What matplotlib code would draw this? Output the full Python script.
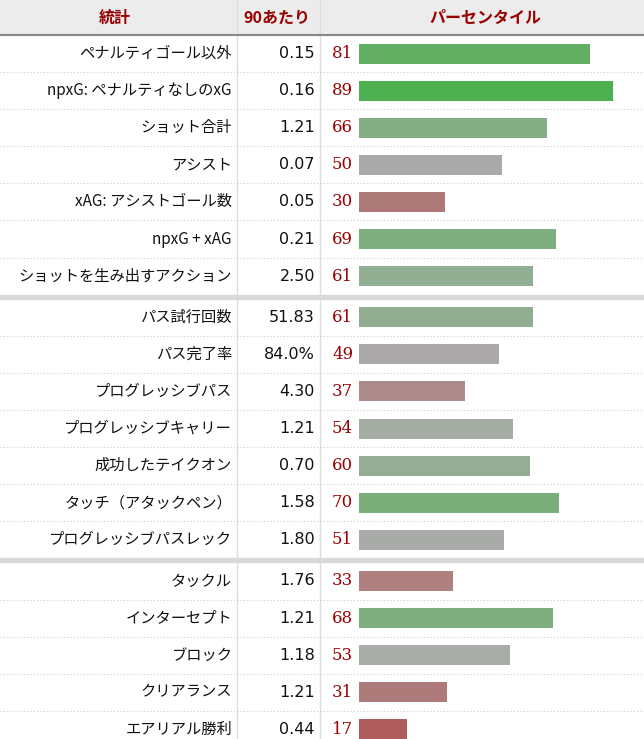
import matplotlib.pyplot as plt
from matplotlib.colors import LinearSegmentedColormap
from matplotlib.patches import Rectangle

plt.rcParams['font.family'] = ['Noto Sans CJK JP', 'DejaVu Sans']

# データ
stats = ['ペナルティゴール以外', 'npxG: ペナルティなしのxG', 'ショット合計', 'アシスト',
         'xAG: アシストゴール数', 'npxG + xAG', 'ショットを生み出すアクション',
         'パス試行回数', 'パス完了率', 'プログレッシブパス', 'プログレッシブキャリー',
         '成功したテイクオン', 'タッチ（アタックペン）', 'プログレッシブパスレック',
         'タックル', 'インターセプト', 'ブロック', 'クリアランス', 'エアリアル勝利']
per90 = ['0.15', '0.16', '1.21', '0.07', '0.05', '0.21', '2.50',
         '51.83', '84.0%', '4.30', '1.21', '0.70', '1.58', '1.80',
         '1.76', '1.21', '1.18', '1.21', '0.44']
pct = [81, 89, 66, 50, 30, 69, 61,
       61, 49, 37, 54, 60, 70, 51,
       33, 68, 53, 31, 17]
group_sizes = [7, 7, 5]
headers = ['統計', '90あたり', 'パーセンタイル']

cmap = LinearSegmentedColormap.from_list('pct', [
    (0.0, '#b03a3a'), (0.17, '#ad5b5b'), (0.33, '#ae8080'), (0.5, '#aaaaaa'),
    (0.53, '#a8ada8'), (0.68, '#80ae80'), (0.81, '#62ae62'), (0.89, '#4caf50'), (1.0, '#3aa83a')])

W, H = 644, 739
fig = plt.figure(figsize=(W / 100, H / 100), dpi=100)
ax = fig.add_axes([0, 0, 1, 1])
ax.set_xlim(0, W)
ax.set_ylim(H, 0)
ax.axis('off')

red = '#990000'
# ヘッダー
ax.add_patch(Rectangle((0, 0), W, 35, color='#ececec', zorder=0))
ax.axhline(35, color='#888888', lw=1.5)
for x, h in zip([115, 277, 485], headers):
    ax.text(x, 18, h, ha='center', va='center', color=red, fontsize=11.5, fontweight='bold')

row_h = 37.1
scale = (590 - 359) / 81
y = 35
i = 0
for g, n in enumerate(group_sizes):
    for k in range(n):
        yc = y + row_h / 2
        ax.text(232, yc, stats[i], ha='right', va='center', fontsize=11, color='#111111')
        ax.text(315, yc, per90[i], ha='right', va='center', fontsize=11.5, color='#111111',
                family='DejaVu Sans')
        ax.text(332, yc, str(pct[i]), ha='left', va='center', fontsize=12, color=red,
                family='DejaVu Serif')
        ax.barh(yc, pct[i] * scale, left=359, height=20, color=cmap(pct[i] / 100), zorder=2)
        y += row_h
        i += 1
        if k < n - 1:
            ax.plot([0, W], [y, y], color='#cccccc', lw=0.8, ls=(0, (1, 2)))
    if g < len(group_sizes) - 1:
        ax.add_patch(Rectangle((0, y), W, 4, color='#d9d9d9', zorder=1))
        y += 4

ax.plot([237, 237], [0, H], color='#dddddd', lw=1, zorder=0.5)
ax.plot([320, 320], [0, H], color='#dddddd', lw=1, zorder=0.5)

fig.savefig('out.png', dpi=100)
